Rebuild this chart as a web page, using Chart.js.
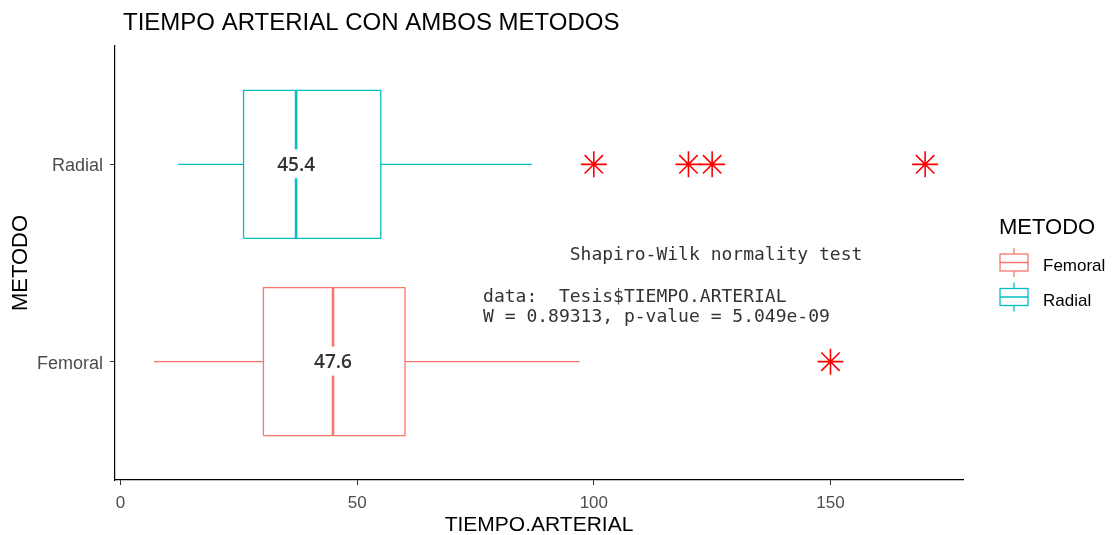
<!DOCTYPE html>
<html>
<head>
<meta charset="utf-8">
<title>Tiempo arterial</title>
<script src="https://cdn.jsdelivr.net/npm/chart.js@4"></script>
<style>
  html, body { margin: 0; padding: 0; background: #fff; }
  #wrap { width: 1114px; height: 535px; }
</style>
</head>
<body>
<div id="wrap"><canvas id="boxChart" width="1114" height="535"></canvas></div>
<script>
// metodos en el eje Y (1 = Femoral, 2 = Radial)
const metodos = ['Femoral', 'Radial'];
const colores = ['#F8766D', '#00BFC4'];

// resumen de cinco numeros por metodo
const bigoteMin = [7.1, 12.2];
const cuartil1 = [30.2, 26.0];
const mediana = [44.9, 37.1];
const cuartil3 = [60.1, 55.0];
const bigoteMax = [97.0, 86.9];

// media que se escribe sobre cada caja
const media = [47.6, 45.4];

// valores atipicos
const atipicosFemoral = [150];
const atipicosRadial = [100, 120, 125, 170];

const ticksX = [0, 50, 100, 150];

const shapiroTexto = [
  '        Shapiro-Wilk normality test',
  '',
  'data:  Tesis$TIEMPO.ARTERIAL',
  'W = 0.89313, p-value = 5.049e-09'
];

Chart.defaults.font.family = '"Liberation Sans", Arial, sans-serif';

function linea(puntos, color, ancho) {
  return {
    data: puntos.map(p => ({ x: p[0], y: p[1] })),
    showLine: true,
    borderColor: color,
    borderWidth: ancho,
    borderJoinStyle: 'miter',
    borderCapStyle: 'butt',
    pointRadius: 0,
    fill: false,
    tension: 0
  };
}

const datasets = [];
const h = 0.375; // media altura de la caja
metodos.forEach((m, i) => {
  const y = i + 1;
  const c = colores[i];
  datasets.push(linea([[cuartil1[i], y - h], [cuartil3[i], y - h], [cuartil3[i], y + h], [cuartil1[i], y + h], [cuartil1[i], y - h]], c, 1.3));
  datasets.push(linea([[mediana[i], y - h], [mediana[i], y + h]], c, 2.6));
  datasets.push(linea([[bigoteMin[i], y], [cuartil1[i], y]], c, 1.3));
  datasets.push(linea([[cuartil3[i], y], [bigoteMax[i], y]], c, 1.3));
});

// atipicos como asteriscos rojos
datasets.unshift({
  data: atipicosFemoral.map(v => ({ x: v, y: 1 })).concat(atipicosRadial.map(v => ({ x: v, y: 2 }))),
  showLine: false,
  pointStyle: 'star',
  pointRadius: 13,
  pointBorderColor: '#FF0000',
  pointBorderWidth: 1.6,
  borderColor: '#FF0000'
});

const extras = {
  id: 'extras',
  afterDatasetsDraw(chart) {
    const ctx = chart.ctx;
    const sx = chart.scales.x, sy = chart.scales.y;
    ctx.save();
    // etiquetas con la media
    ctx.font = '600 19px "Open Sans", sans-serif';
    ctx.textAlign = 'center';
    ctx.textBaseline = 'middle';
    metodos.forEach((m, i) => {
      const px = sx.getPixelForValue(mediana[i]);
      const py = sy.getPixelForValue(i + 1);
      const txt = media[i].toFixed(1);
      const w = ctx.measureText(txt).width;
      ctx.fillStyle = '#fff';
      ctx.fillRect(px - w / 2 - 6, py - 15, w + 12, 29);
      ctx.fillStyle = '#333';
      ctx.fillText(txt, px, py + 1);
    });

    // salida de la prueba de Shapiro-Wilk
    ctx.font = '18px "DejaVu Sans Mono", monospace';
    ctx.textAlign = 'left';
    ctx.fillStyle = '#333';
    const tx = sx.getPixelForValue(76.6);
    const ty = sy.getPixelForValue(1.552) + 3;
    shapiroTexto.forEach((l, k) => ctx.fillText(l, tx, ty + k * 20.6));
    ctx.restore();
  },
  afterDraw(chart) {
    const ctx = chart.ctx;
    ctx.save();
    // titulo
    ctx.fillStyle = '#000';
    ctx.font = '24px "Liberation Sans", Arial, sans-serif';
    ctx.textAlign = 'left';
    ctx.textBaseline = 'alphabetic';
    ctx.fillText('TIEMPO ARTERIAL CON AMBOS METODOS', 123, 30);

    // leyenda
    ctx.font = '22px "Liberation Sans", Arial, sans-serif';
    ctx.textBaseline = 'middle';
    ctx.fillText('METODO', 999, 228);
    ctx.font = '17px "Liberation Sans", Arial, sans-serif';
    metodos.forEach((m, i) => {
      const cy = 262.5 + i * 34.5;
      ctx.strokeStyle = colores[i];
      ctx.lineWidth = 1.3;
      ctx.strokeRect(1000, cy - 8.5, 28, 17);
      ctx.beginPath();
      ctx.moveTo(1000, cy); ctx.lineTo(1028, cy);
      ctx.moveTo(1014, cy - 14.5); ctx.lineTo(1014, cy - 8.5);
      ctx.moveTo(1014, cy + 8.5); ctx.lineTo(1014, cy + 14.5);
      ctx.stroke();
      ctx.fillStyle = '#000';
      ctx.fillText(m, 1043, cy + 4);
    });
    ctx.restore();
  }
};

new Chart(document.getElementById('boxChart'), {
  type: 'scatter',
  data: { datasets: datasets },
  options: {
    responsive: false,
    animation: false,
    events: [],
    devicePixelRatio: 1,
    layout: { padding: { top: 46, right: 151, left: 0, bottom: 0 } },
    plugins: { legend: { display: false }, tooltip: { enabled: false } },
    scales: {
      x: {
        type: 'linear',
        min: -1.16,
        max: 178,
        afterBuildTicks: s => { s.ticks = ticksX.map(v => ({ value: v })); },
        afterFit: s => { s.height = 55; },
        grid: { drawOnChartArea: false, drawTicks: true, tickLength: 5, color: '#333' },
        border: { display: true, color: '#000', width: 1.2 },
        ticks: { color: '#4d4d4d', font: { size: 17 }, padding: 8, maxRotation: 0 },
        title: { display: true, text: 'TIEMPO.ARTERIAL', color: '#000', font: { size: 21 }, padding: { top: 0, bottom: -3 } }
      },
      y: {
        type: 'linear',
        min: 0.4,
        max: 2.6,
        afterBuildTicks: s => { s.ticks = metodos.map((m, i) => ({ value: i + 1 })); },
        afterFit: s => { s.width = 115; },
        grid: { drawOnChartArea: false, drawTicks: true, tickLength: 5, color: '#333' },
        border: { display: true, color: '#000', width: 1.2 },
        ticks: { color: '#4d4d4d', font: { size: 18 }, padding: 7, labelOffset: 2, callback: v => metodos[v - 1] },
        title: { display: true, text: 'METODO', color: '#000', font: { size: 22 }, padding: { top: 8, bottom: 0 } }
      }
    }
  },
  plugins: [extras]
});
</script>
</body>
</html>
